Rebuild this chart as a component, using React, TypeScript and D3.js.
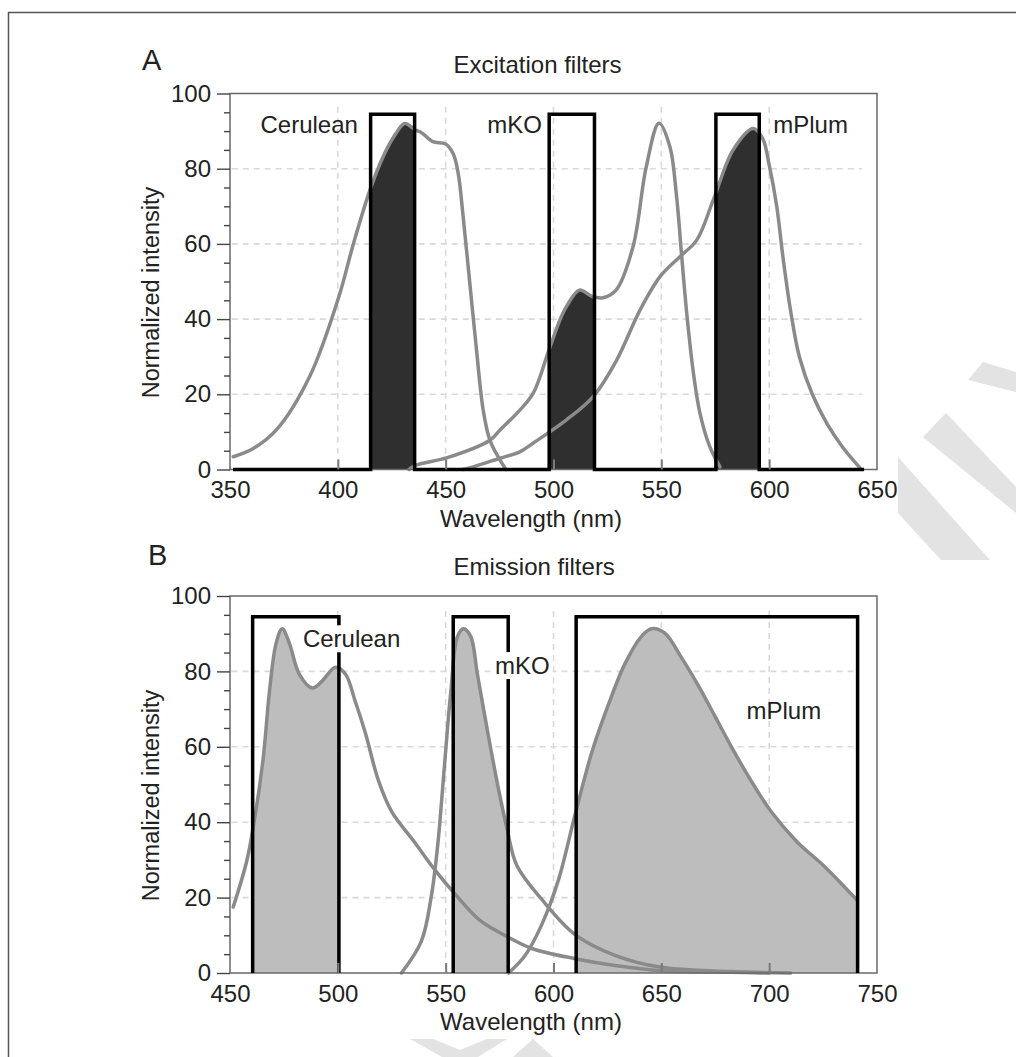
import React, { useLayoutEffect, useRef } from 'react'
import * as d3 from 'd3'

const FONT = '"Liberation Sans", Arial, Helvetica, sans-serif'
const TEXT = '#222'
const CURVE = '#8a8a8a'

// ---- panel A: excitation spectra (wavelength nm / normalized intensity)
const ceruleanExWl = [351.5, 360.8, 371.6, 387, 400.5, 407.2, 415, 421, 427, 431, 436, 439, 444, 450, 453.5, 455.8, 458.1, 461.2, 464.3, 467.4, 470.5, 475, 478]
const ceruleanExVal = [3.4, 5.6, 10.6, 24.8, 46, 60, 74.5, 83.2, 89.4, 92, 90.3, 89.5, 87.2, 86.6, 84, 78.8, 67.3, 49.5, 31.8, 15.8, 7.8, 2.7, 0]

const mkoExWl = [433, 436.5, 450.4, 470.5, 475.2, 484.4, 490.6, 497.9, 503, 506, 512, 518, 523, 529, 536.9, 543, 548.9, 553.9, 557, 559.4, 561.7, 564.8, 567.9, 572.5, 577.2]
const mkoExVal = [0, 1.2, 3.1, 7.8, 10.5, 15.8, 20.3, 31.8, 39.8, 43.3, 47.7, 46, 45.7, 47.7, 59.3, 80.5, 92.1, 86, 73, 57, 42, 26, 15, 6, 0.7]

const mplumExWl = [458, 462.8, 475.2, 484.4, 490.5, 506, 518.4, 529.3, 540.1, 549.4, 558.6, 566.4, 574.1, 583.3, 592.6, 597, 600, 603.5, 606.5, 610, 614, 620, 627, 634, 642]
const mplumExVal = [0, 0.7, 3, 4.7, 7, 13.2, 19.4, 29.1, 42.4, 51.3, 56.6, 61, 71.7, 85, 90.7, 88, 81, 70, 56, 42, 30, 20, 12, 6, 0.5]

// ---- panel B: emission spectra
const ceruleanEmWl = [451.5, 457.6, 460.7, 465.3, 468.3, 471.4, 474.2, 477.5, 482.1, 488.2, 492.8, 498.9, 503.5, 508.1, 512.7, 518.8, 524.9, 535.6, 544.8, 555.5, 566.2, 578.4, 590, 610, 628.5, 650, 682, 700]
const ceruleanEmVal = [17.5, 29.3, 38.4, 56.5, 74.7, 87.5, 91.3, 87.5, 79.3, 75.6, 77.5, 81.1, 79.3, 72, 63.8, 51.1, 42.9, 34.7, 27.5, 20.2, 13.8, 9.7, 6.5, 3.8, 2, 0.6, 0.2, 0]

const mkoEmWl = [529.5, 538.7, 543.3, 546.3, 549.4, 552.4, 555.5, 558.3, 561.6, 564.7, 569.3, 573.9, 578.4, 583, 594.6, 610, 628.5, 650, 682, 710]
const mkoEmVal = [0, 8.4, 20.2, 33.8, 54.7, 74.7, 89.3, 91.3, 89.3, 79.3, 64.5, 50.5, 38.4, 28.5, 19.5, 10.2, 4.7, 1.5, 0.4, 0]

const mplumEmWl = [579.2, 586.9, 594.6, 602.3, 610, 617.7, 625.4, 633.1, 640.8, 645.4, 651.5, 659.2, 666.9, 674.6, 682.3, 691.5, 700.8, 713.1, 725.4, 740.8]
const mplumEmVal = [0, 4.7, 12.9, 24.7, 42, 58.4, 71.1, 82, 89.3, 91.3, 90.2, 83.8, 76.5, 68.4, 60.2, 51.1, 42.9, 34.7, 28.4, 19.3]

// ---- filter pass bands
const exBoxStart = [415.2, 498, 575.3]
const exBoxEnd = [435.6, 519, 595.4]
const exBaseline = [351.4, 644]
const emBoxStart = [460.5, 553.5, 610.5]
const emBoxEnd = [500.5, 579, 741]
const boxTop = 94.5

const fluorophores = ['Cerulean', 'mKO', 'mPlum']
const exXTicks = [350, 400, 450, 500, 550, 600, 650]
const emXTicks = [450, 500, 550, 600, 650, 700, 750]
const yTicks = [0, 20, 40, 60, 80, 100]
const yMinorTicks = [5, 10, 15, 25, 30, 35, 45, 50, 55, 65, 70, 75, 85, 90, 95]
const gridY = [20, 40, 60, 80]

// faint page watermark, mostly hidden behind the figure
const watermark = [
  '983,362 1016,372 1016,392 968,380',
  '946,413 1016,487 1016,513 923,437',
  '898,457 990,560 941,560 898,513',
  '410,1039 433,1039 460,1050 487,1039 507,1039 478,1057 442,1057',
  '533,1039 553,1057 513,1057',
]

type Series = { wl: number[]; val: number[] }
type LabelDef = { text: string; wl: number; v: number; anchor: 'start' | 'end'; bg: boolean }

interface PanelProps {
  id: string
  letter: string
  letterX: number
  letterY: number
  title: string
  titleX: number
  titleY: number
  xLabelY: number
  top: number
  height: number
  domain: [number, number]
  xTicks: number[]
  gridX: [number, number]
  gridTop: number
  spectra: Series[]
  boxStart: number[]
  boxEnd: number[]
  baseline: number[] | null
  fill: string
  labels: LabelDef[]
}

const Label = ({ x, y, text, anchor, bg }: { x: number; y: number; text: string; anchor: string; bg: boolean }) => {
  const tRef = useRef<SVGTextElement>(null)
  const rRef = useRef<SVGRectElement>(null)
  useLayoutEffect(() => {
    if (!bg || !tRef.current || !rRef.current) return
    const b = tRef.current.getBBox()
    d3.select(rRef.current).attr('x', b.x - 3).attr('y', b.y).attr('width', b.width + 6).attr('height', b.height)
  })
  return (
    <g>
      {bg && <rect ref={rRef} fill='#fff' />}
      <text ref={tRef} x={x} y={y} textAnchor={anchor} fontSize={24} fill={TEXT} fontFamily={FONT}>{text}</text>
    </g>
  )
}

const styleAxis = (g: d3.Selection<SVGGElement, unknown, null, undefined>) => {
  g.attr('font-size', 24).attr('font-family', FONT).attr('color', TEXT)
  g.selectAll('.domain').remove()
}

const Panel = (p: PanelProps) => {
  const left = 230
  const right = 877
  const bottom = p.top + p.height
  const x = d3.scaleLinear().domain(p.domain).range([left, right])
  const y = d3.scaleLinear().domain([0, 100]).range([bottom, p.top])
  const curve = d3.curveCatmullRom.alpha(0.5)
  const line = d3.line<[number, number]>().x(d => x(d[0])).y(d => y(d[1])).curve(curve)
  const area = d3.area<[number, number]>().x(d => x(d[0])).y0(y(0)).y1(d => y(d[1])).curve(curve)
  const step = d3.line<[number, number]>().x(d => x(d[0])).y(d => y(d[1]))
  const pts = p.spectra.map(s => d3.zip(s.wl, s.val) as [number, number][])

  // filter outline(s)
  const outlines: [number, number][][] = []
  if (p.baseline) {
    const path: [number, number][] = [[p.baseline[0], 0]]
    p.boxStart.forEach((s, i) => {
      path.push([s, 0], [s, boxTop], [p.boxEnd[i], boxTop], [p.boxEnd[i], 0])
    })
    path.push([p.baseline[1], 0])
    outlines.push(path)
  } else {
    p.boxStart.forEach((s, i) => outlines.push([[s, 0], [s, boxTop], [p.boxEnd[i], boxTop], [p.boxEnd[i], 0]]))
  }

  const xAxisRef = (node: SVGGElement | null) => {
    if (!node) return
    const g = d3.select(node)
    g.selectAll('*').remove()
    g.call(d3.axisBottom(x).tickValues(p.xTicks).tickSizeInner(-10).tickSizeOuter(0).tickPadding(11.5))
    styleAxis(g)
    g.selectAll<SVGGElement, number>('.tick').each(function (d) {
      const ln = d3.select(this).select('line')
      if (d === p.domain[0] || d === p.domain[1]) ln.remove()
      else ln.attr('stroke', '#7a7a7a').attr('stroke-width', 2)
    })
  }

  const yAxisRef = (node: SVGGElement | null) => {
    if (!node) return
    const g = d3.select(node)
    g.selectAll('*').remove()
    const minor = g.append('g')
    minor.call(d3.axisLeft(y).tickValues(yMinorTicks).tickSize(6).tickFormat(() => ''))
    styleAxis(minor)
    const major = g.append('g')
    major.call(d3.axisLeft(y).tickValues(yTicks).tickSize(13).tickPadding(6))
    styleAxis(major)
    g.selectAll('.tick line').attr('stroke', '#444').attr('stroke-width', 1.4)
  }

  return (
    <g>
      <defs>
        {p.boxStart.map((s, i) => (
          <clipPath key={i} id={`${p.id}-clip-${i}`}>
            <rect x={x(s)} y={p.top} width={x(p.boxEnd[i]) - x(s)} height={p.height} />
          </clipPath>
        ))}
      </defs>

      <text x={p.letterX} y={p.letterY} fontSize={29} fill={TEXT} fontFamily={FONT}>{p.letter}</text>
      <text x={p.titleX} y={p.titleY} textAnchor='middle' fontSize={24} fill={TEXT} fontFamily={FONT}>{p.title}</text>

      {/* grid */}
      <g stroke='#d9d9d9' strokeWidth={1.6} strokeDasharray='6,5'>
        {p.xTicks.filter(t => t > p.domain[0] && t < p.domain[1]).map(t => (
          <line key={'v' + t} x1={x(t)} x2={x(t)} y1={y(p.gridTop)} y2={y(0)} />
        ))}
        {gridY.map(t => (
          <line key={'h' + t} x1={x(p.gridX[0])} x2={x(p.gridX[1])} y1={y(t)} y2={y(t)} />
        ))}
      </g>

      {/* filtered light */}
      {pts.map((d, i) => (
        <path key={'f' + i} d={area(d) || ''} fill={p.fill} clipPath={`url(#${p.id}-clip-${i})`} />
      ))}

      {/* spectra */}
      {pts.map((d, i) => (
        <path key={'s' + i} d={line(d) || ''} fill='none' stroke={CURVE} strokeWidth={3.5} strokeLinecap='round' strokeLinejoin='round' />
      ))}

      {/* frame */}
      <rect x={left} y={p.top} width={right - left} height={p.height} fill='none' stroke='#6a6a6a' strokeWidth={1.5} />

      {/* filters */}
      {outlines.map((o, i) => (
        <path key={'o' + i} d={step(o) || ''} fill='none' stroke='#000' strokeWidth={3.5} strokeLinejoin='miter' />
      ))}

      <g ref={xAxisRef} transform={`translate(0,${bottom})`} />
      <g ref={yAxisRef} transform={`translate(${left},0)`} />

      {p.labels.map((l, i) => (
        <Label key={'l' + i} x={x(l.wl)} y={y(l.v)} text={l.text} anchor={l.anchor} bg={l.bg} />
      ))}

      <text x={531} y={p.xLabelY} textAnchor='middle' fontSize={24} fill={TEXT} fontFamily={FONT}>Wavelength (nm)</text>
      <text transform={`translate(159,${p.top + p.height / 2 + 11}) rotate(-90)`} textAnchor='middle' fontSize={23.5} fill={TEXT} fontFamily={FONT}>Normalized intensity</text>
    </g>
  )
}

export default function App() {
  return (
    <svg width={1016} height={1057} style={{ position: 'absolute', left: 0, top: 0, display: 'block' }}>
      <rect width={1016} height={1057} fill='#fff' />
      <g fill='#e3e3e3'>
        {watermark.map((w, i) => <polygon key={i} points={w} />)}
      </g>
      <rect x={8} y={12} width={890} height={1026} fill='#fff' />
      <path d='M8.5,1057V12.5H1016' fill='none' stroke='#555' strokeWidth={1.5} />

      <Panel
        id='ex'
        letter='A' letterX={142} letterY={70}
        title='Excitation filters' titleX={537.5} titleY={72.7}
        xLabelY={527}
        top={93.5} height={376}
        domain={[350, 650]} xTicks={exXTicks}
        gridX={[350.8, 643]} gridTop={96.5}
        spectra={[
          { wl: ceruleanExWl, val: ceruleanExVal },
          { wl: mkoExWl, val: mkoExVal },
          { wl: mplumExWl, val: mplumExVal },
        ]}
        boxStart={exBoxStart} boxEnd={exBoxEnd} baseline={exBaseline}
        fill='#2f2f2f'
        labels={[
          { text: fluorophores[0], wl: 409.3, v: 89.4, anchor: 'end', bg: false },
          { text: fluorophores[1], wl: 469.3, v: 89.4, anchor: 'start', bg: false },
          { text: fluorophores[2], wl: 601.9, v: 89.4, anchor: 'start', bg: false },
        ]}
      />
      <Panel
        id='em'
        letter='B' letterX={148} letterY={565}
        title='Emission filters' titleX={534.2} titleY={575.4}
        xLabelY={1030}
        top={596} height={377}
        domain={[450, 750]} xTicks={emXTicks}
        gridX={[450.7, 741]} gridTop={96}
        spectra={[
          { wl: ceruleanEmWl, val: ceruleanEmVal },
          { wl: mkoEmWl, val: mkoEmVal },
          { wl: mplumEmWl, val: mplumEmVal },
        ]}
        boxStart={emBoxStart} boxEnd={emBoxEnd} baseline={null}
        fill='#bdbdbd'
        labels={[
          { text: fluorophores[0], wl: 483.8, v: 86.4, anchor: 'start', bg: true },
          { text: fluorophores[1], wl: 572.9, v: 79.3, anchor: 'start', bg: true },
          { text: fluorophores[2], wl: 689.5, v: 67.5, anchor: 'start', bg: false },
        ]}
      />
    </svg>
  )
}
